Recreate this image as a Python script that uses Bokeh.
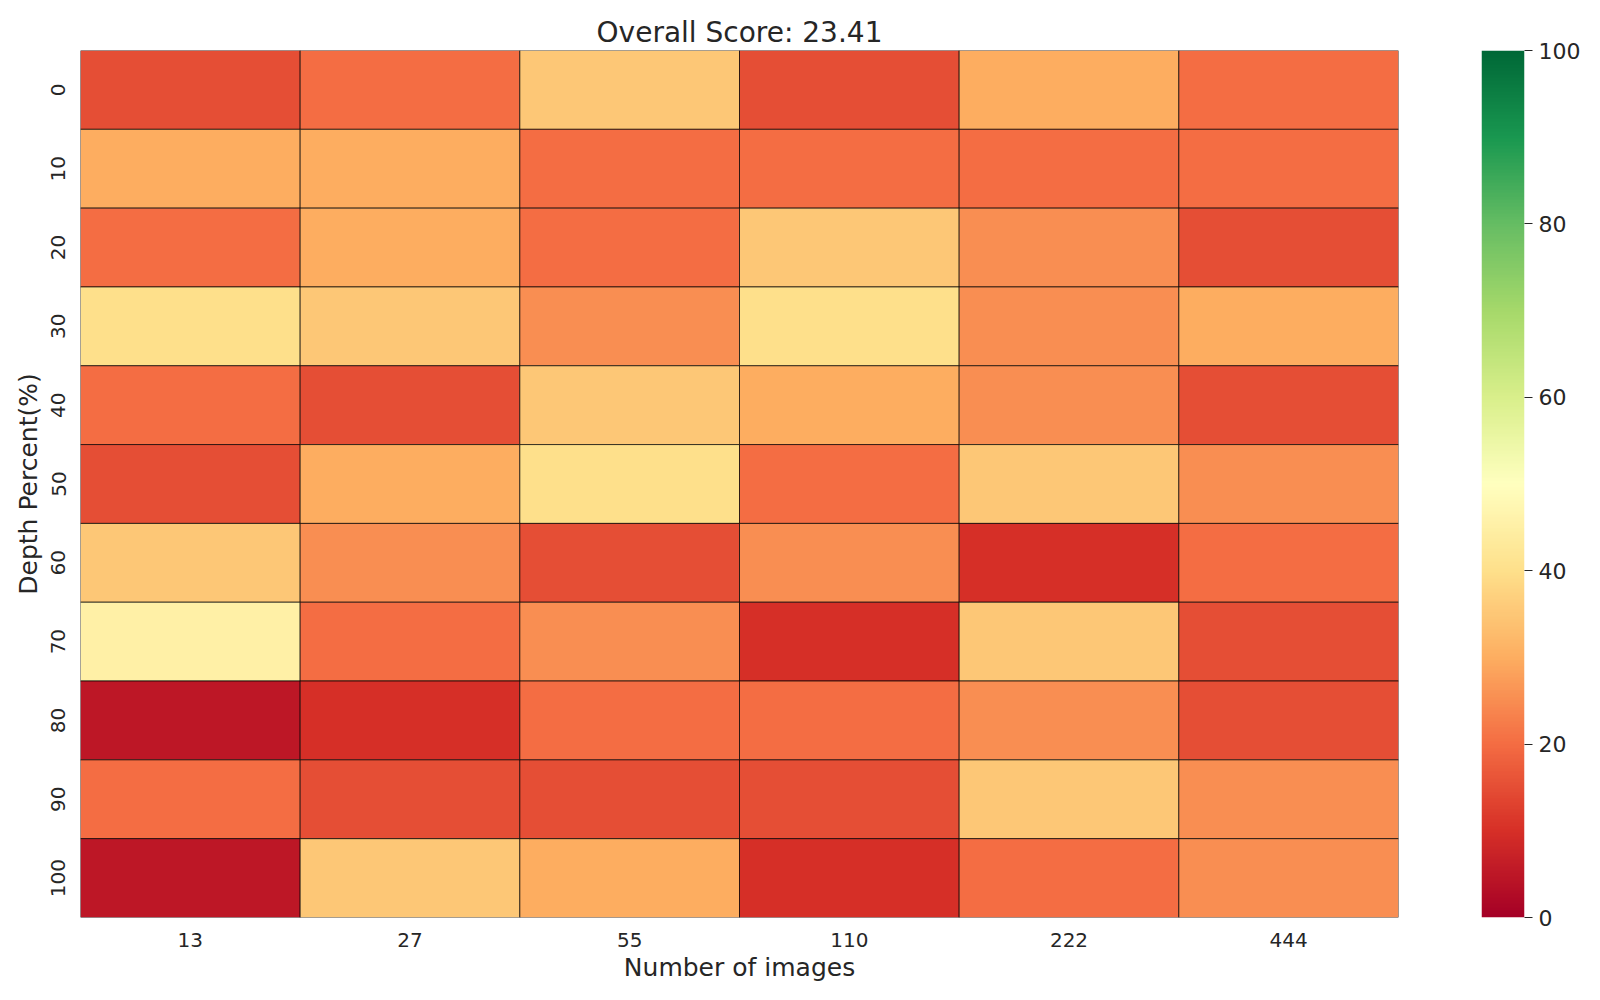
import numpy as np
from bokeh.plotting import figure
from bokeh.layouts import row
from bokeh.models import ColumnDataSource, LinearColorMapper, FixedTicker, FactorRange, Range1d
from bokeh.embed import file_html
from bokeh.resources import INLINE

# ---- data ----
images = ["13", "27", "55", "110", "222", "444"]
depths = ["0", "10", "20", "30", "40", "50", "60", "70", "80", "90", "100"]
score_d0 = [15, 20, 35, 15, 30, 20]
score_d10 = [30, 30, 20, 20, 20, 20]
score_d20 = [20, 30, 20, 35, 25, 15]
score_d30 = [40, 35, 25, 40, 25, 30]
score_d40 = [20, 15, 35, 30, 25, 15]
score_d50 = [15, 30, 40, 20, 35, 25]
score_d60 = [35, 25, 15, 25, 10, 20]
score_d70 = [45, 20, 25, 10, 35, 15]
score_d80 = [5, 10, 20, 20, 25, 15]
score_d90 = [20, 15, 15, 15, 35, 25]
score_d100 = [5, 35, 30, 10, 20, 25]
scores = [score_d0, score_d10, score_d20, score_d30, score_d40, score_d50,
          score_d60, score_d70, score_d80, score_d90, score_d100]
cbar_ticks = [0, 20, 40, 60, 80, 100]

overall = float(np.mean(np.array(scores, dtype=float)))

# ---- RdYlGn palette (256) ----
anchors = ["#a50026", "#d73027", "#f46d43", "#fdae61", "#fee08b", "#ffffbf",
           "#d9ef8b", "#a6d96a", "#66bd63", "#1a9850", "#006837"]
anc = np.array([[int(h[i:i + 2], 16) for i in (1, 3, 5)] for h in anchors], dtype=float)
pos = np.linspace(0, 1, len(anchors))
t = np.linspace(0, 1, 256)
rgb = np.stack([np.interp(t, pos, anc[:, k]) for k in range(3)], axis=1)
palette = ["#%02x%02x%02x" % tuple(int(round(c)) for c in col) for col in rgb]
mapper = LinearColorMapper(palette=palette, low=0, high=100)

xs, ys, vs = [], [], []
for i, d in enumerate(depths):
    for j, n in enumerate(images):
        xs.append(n)
        ys.append(d)
        vs.append(scores[i][j])
src = ColumnDataSource(dict(x=xs, y=ys, v=vs))

TXT = "#262626"
FONT = "DejaVu Sans"

p = figure(width=1481, height=984,
           x_range=FactorRange(factors=images),
           y_range=FactorRange(factors=depths[::-1]),
           output_backend="svg", toolbar_location=None,
           title="Overall Score: %.2f" % overall,
           min_border_left=80, min_border_right=83,
           min_border_top=50, min_border_bottom=62)
p.rect(x="x", y="y", width=1, height=1, source=src,
       fill_color={"field": "v", "transform": mapper},
       line_color="black", line_width=0.7)

p.title.align = "center"
p.title.text_font = FONT
p.title.text_font_size = "28px"
p.title.text_font_style = "normal"
p.title.text_color = TXT
p.title.standoff = 4

p.outline_line_color = None
p.grid.visible = False
for ax in (p.xaxis, p.yaxis):
    ax.axis_line_color = None
    ax.major_tick_line_color = None
    ax.minor_tick_line_color = None
    ax.major_label_text_font = FONT
    ax.major_label_text_font_size = "20px"
    ax.major_label_text_color = TXT
    ax.axis_label_text_font = FONT
    ax.axis_label_text_font_size = "25px"
    ax.axis_label_text_font_style = "normal"
    ax.axis_label_text_color = TXT
p.xaxis.axis_label = "Number of images"
p.yaxis.axis_label = "Depth Percent(%)"
p.yaxis.major_label_orientation = "vertical"
p.xaxis.major_label_standoff = 9
p.yaxis.major_label_standoff = 9
p.xaxis.axis_label_standoff = 3
p.yaxis.axis_label_standoff = 6

# ---- colorbar as its own small figure ----
grad = np.linspace(0, 100, 256).reshape(256, 1)
c = figure(width=103, height=984, x_range=Range1d(0, 1), y_range=Range1d(0, 100),
           output_backend="svg", toolbar_location=None, y_axis_location="right",
           min_border_left=0, min_border_right=60, min_border_top=50, min_border_bottom=62)
c.image(image=[grad], x=0, y=0, dw=1, dh=100, color_mapper=mapper)
c.xaxis.visible = False
c.grid.visible = False
c.outline_line_color = None
c.yaxis.ticker = FixedTicker(ticks=cbar_ticks)
c.yaxis.axis_line_color = None
c.yaxis.minor_tick_line_color = None
c.yaxis.major_tick_in = 0
c.yaxis.major_tick_out = 8
c.yaxis.major_tick_line_color = TXT
c.yaxis.major_tick_line_width = 1.2
c.yaxis.major_label_text_font = FONT
c.yaxis.major_label_text_font_size = "22px"
c.yaxis.major_label_text_color = TXT
c.yaxis.major_label_standoff = 6

layout = row(p, c)
open("out.html", "w").write(file_html(layout, INLINE))
